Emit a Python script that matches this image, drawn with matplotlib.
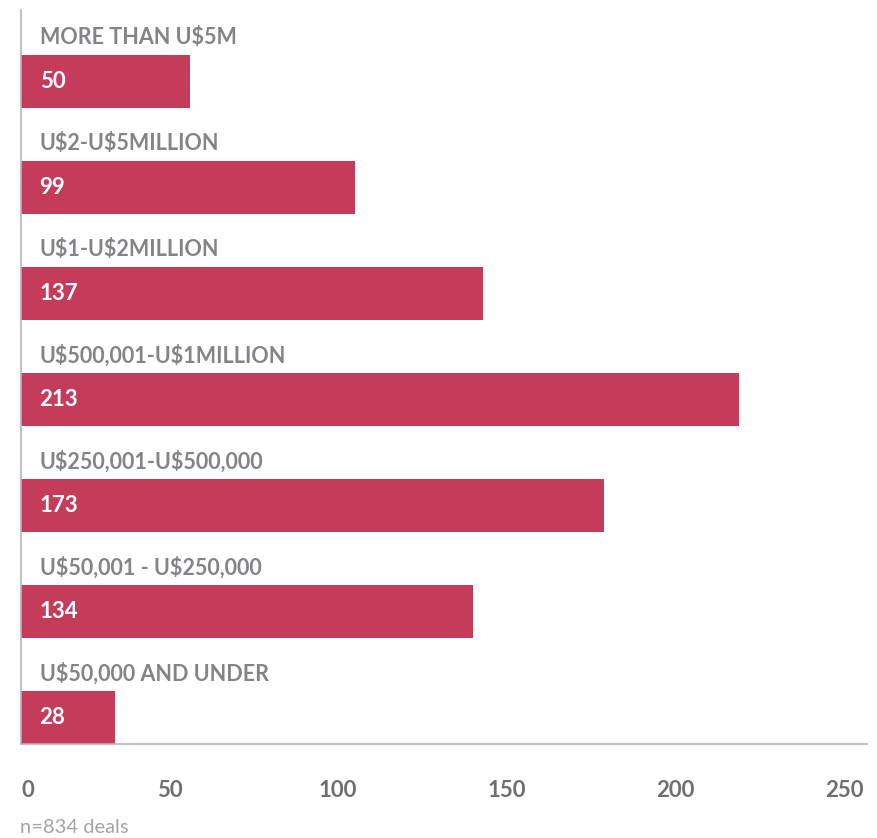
import matplotlib.pyplot as plt
from matplotlib.transforms import ScaledTranslation

# Deal sizes, top to bottom as in the chart
categories = [
    "MORE THAN U$5M",
    "U$2-U$5MILLION",
    "U$1-U$2MILLION",
    "U$500,001-U$1MILLION",
    "U$250,001-U$500,000",
    "U$50,001 - U$250,000",
    "U$50,000 AND UNDER",
]
deals = [50, 99, 137, 213, 173, 134, 28]
x_ticks = [0, 50, 100, 150, 200, 250]
note = "n=834 deals"

bar_color = "#C53C5B"
label_gray = "#838389"
tick_gray = "#6E6E73"
axis_gray = "#B4B4BC"

plt.rcParams["font.family"] = ["Lato", "DejaVu Sans"]
plt.rcParams["text.parse_math"] = False

fig = plt.figure(figsize=(8.77, 8.38), dpi=100)
ax = fig.add_axes([0.024, 0.1122, 0.9646, 0.8758])

n = len(categories)
ypos = [n - 1 - i for i in range(n)]
bar_h = 0.5

ax.barh(ypos, deals, height=bar_h, color=bar_color, zorder=2)

for y, cat, val in zip(ypos, categories, deals):
    ax.text(5.5, y + bar_h / 2 + 0.1, cat, ha="left", va="baseline",
            fontsize=15.5, fontweight="bold", color=label_gray)
    ax.text(5.5, y, str(val), ha="left", va="center",
            fontsize=16, fontweight="bold", color="white")

ax.set_xlim(0, 251)
ax.set_ylim(-bar_h / 2, 6.675)
ax.set_yticks([])
ax.set_xticks(x_ticks)
ax.set_xticklabels([str(t) for t in x_ticks])
ax.tick_params(axis="x", length=0, pad=26, labelsize=16, labelcolor=tick_gray)

labels = ax.get_xticklabels()
for i, lab in enumerate(labels):
    lab.set_fontweight("bold")
    if i == 0:
        lab.set_ha("left")
    elif i == len(labels) - 1:
        lab.set_ha("right")
    else:
        lab.set_transform(lab.get_transform() + ScaledTranslation(-0.2, 0, fig.dpi_scale_trans))

for side in ["top", "right"]:
    ax.spines[side].set_visible(False)
for side in ["left", "bottom"]:
    ax.spines[side].set_color(axis_gray)
    ax.spines[side].set_linewidth(1.2)

fig.text(0.023, 0.012, note, ha="left", va="center", fontsize=14.5,
         fontweight="normal", color="#A4A4AA")

plt.savefig("out.png", dpi=100)
plt.close()
